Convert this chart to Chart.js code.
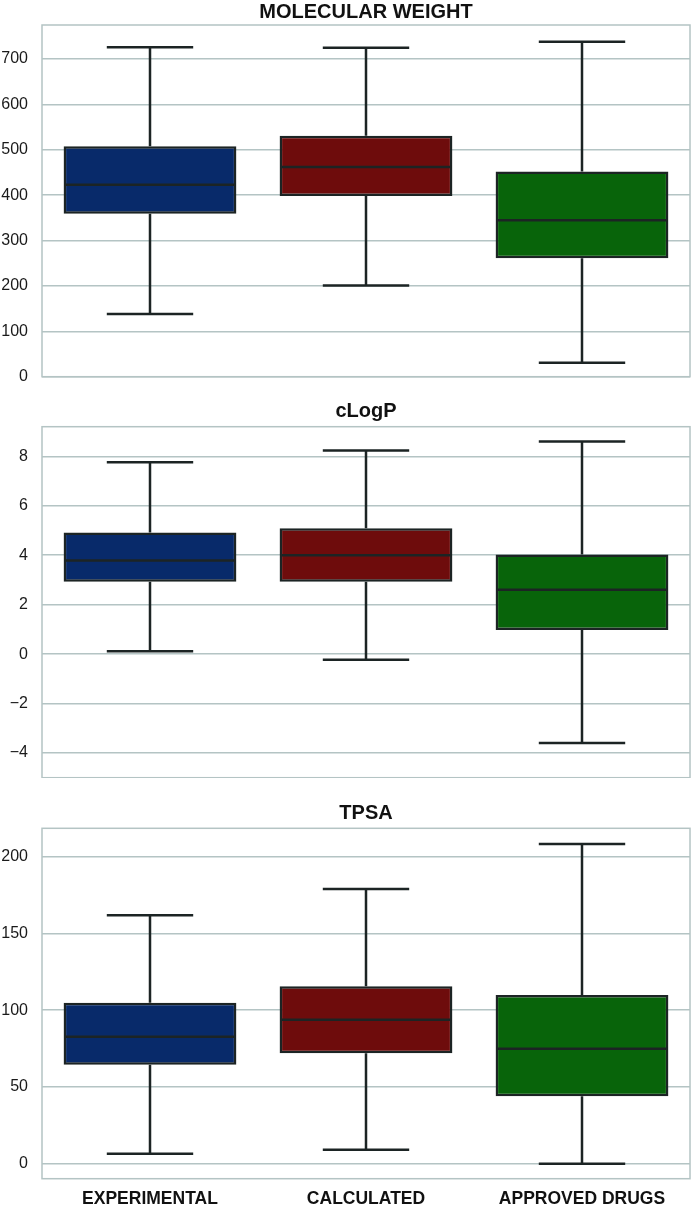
<!DOCTYPE html>
<html>
<head>
<meta charset="utf-8">
<script src="https://cdn.jsdelivr.net/npm/chart.js@4.4.1/dist/chart.umd.min.js"></script>
<style>
  body { margin: 0; background: #fff; width: 693px; height: 1208px; position: relative; overflow: hidden; }
  .panel { position: absolute; left: 0; width: 693px; }
</style>
</head>
<body>
<div class="panel" style="top:0;height:395px"><canvas id="mwChart"></canvas></div>
<div class="panel" style="top:400px;height:378px"><canvas id="logpChart"></canvas></div>
<div class="panel" style="top:802px;height:406px"><canvas id="tpsaChart"></canvas></div>
<script>
const groups = ['EXPERIMENTAL', 'CALCULATED', 'APPROVED DRUGS'];
const boxColors = ['#082a6a', '#6e0c0c', '#08640a'];

// molecular weight
const mwMin = [138, 201, 31];
const mwQ1 = [359, 398, 261];
const mwMedian = [423, 462, 345];
const mwQ3 = [508, 531, 452];
const mwMax = [726, 725, 738];
const mwTicks = [0, 100, 200, 300, 400, 500, 600, 700];

// cLogP
const logpMin = [0.12, -0.23, -3.6];
const logpQ1 = [2.93, 2.93, 0.98];
const logpMedian = [3.79, 4.0, 2.6];
const logpQ3 = [4.92, 5.09, 4.03];
const logpMax = [7.76, 8.24, 8.6];
const logpTicks = [-4, -2, 0, 2, 4, 6, 8];

// TPSA
const tpsaMin = [6.5, 9.1, 0];
const tpsaQ1 = [64.5, 71.9, 43.9];
const tpsaMedian = [82.7, 93.8, 74.9];
const tpsaQ3 = [104.9, 115.6, 109.9];
const tpsaMax = [161.8, 179, 208.3];
const tpsaTicks = [0, 50, 100, 150, 200];

const gridColor = '#b4c4c4';
const lineColor = '#1c2424';
const fontFamily = 'Liberation Sans, Arial, sans-serif';

// frame round the plot area
const framePlugin = {
    id: 'frame',
    beforeDatasetsDraw(chart) {
        const a = chart.chartArea, c = chart.ctx;
        c.save();
        c.strokeStyle = gridColor;
        c.lineWidth = 1.5;
        c.strokeRect(a.left, a.top, a.right - a.left, a.bottom - a.top);
        c.restore();
    }
};

// panel title centred over the plot area
const panelTitlePlugin = {
    id: 'panelTitle',
    afterDraw(chart, args, opts) {
        const a = chart.chartArea, c = chart.ctx;
        c.save();
        c.fillStyle = '#111';
        c.font = 'bold 20px ' + fontFamily;
        c.textAlign = 'center';
        c.textBaseline = 'middle';
        c.fillText(opts.text, (a.left + a.right) / 2, opts.y);
        c.restore();
    }
};

// whiskers, caps and median drawn through the scales
const whiskerPlugin = {
    id: 'whiskers',
    afterDatasetsDraw(chart, args, opts) {
        const c = chart.ctx;
        const xs = chart.scales.x, ys = chart.scales.y;
        const bars = chart.getDatasetMeta(0).data;
        c.save();
        c.strokeStyle = lineColor;
        c.lineWidth = 2.5;
        opts.mins.forEach((mn, i) => {
            const x = xs.getPixelForValue(i);
            const half = bars[i].width / 2;
            const cap = half / 2;
            const yMin = ys.getPixelForValue(mn);
            const yQ1 = ys.getPixelForValue(opts.q1s[i]);
            const yQ3 = ys.getPixelForValue(opts.q3s[i]);
            const yMax = ys.getPixelForValue(opts.maxs[i]);
            const yMed = ys.getPixelForValue(opts.medians[i]);
            c.beginPath();
            c.moveTo(x, yQ3); c.lineTo(x, yMax);
            c.moveTo(x - cap, yMax); c.lineTo(x + cap, yMax);
            c.moveTo(x, yQ1); c.lineTo(x, yMin);
            c.moveTo(x - cap, yMin); c.lineTo(x + cap, yMin);
            c.moveTo(x - half + 1, yMed); c.lineTo(x + half - 1, yMed);
            c.stroke();
        });
        c.restore();
    }
};

const noPadding = () => ({ left: 0, top: 0, right: 0, bottom: 0 });

function makeBoxChart(id, title, mins, q1s, medians, q3s, maxs, ticks, yMin, yMax, cfg) {
    const ctx = document.getElementById(id).getContext('2d');
    return new Chart(ctx, {
        type: 'bar',
        data: {
            labels: groups,
            datasets: [{
                data: q1s.map((q, i) => [q, q3s[i]]),
                backgroundColor: boxColors,
                borderColor: lineColor,
                borderWidth: 2.5,
                borderSkipped: false,
                barPercentage: 0.8,
                categoryPercentage: 1.0
            }]
        },
        options: {
            responsive: true,
            maintainAspectRatio: false,
            animation: false,
            layout: { padding: { left: 0, right: 3, top: cfg.padTop, bottom: cfg.padBottom } },
            plugins: {
                legend: { display: false },
                tooltip: { enabled: false },
                title: { display: false },
                panelTitle: { text: title, y: cfg.titleY },
                whiskers: { mins, q1s, medians, q3s, maxs }
            },
            scales: {
                x: {
                    grid: { display: false, drawTicks: false },
                    border: { display: false },
                    afterFit: s => { s.height = cfg.xHeight; s.getPadding = noPadding; },
                    ticks: {
                        display: cfg.showX,
                        color: '#111',
                        padding: 10,
                        font: { family: fontFamily, size: 17.5, weight: 'bold' }
                    }
                },
                y: {
                    min: yMin,
                    max: yMax,
                    afterBuildTicks: s => { s.ticks = ticks.map(v => ({ value: v })); },
                    afterFit: s => {
                        s.width = 42;
                        s.paddingTop = 0;
                        s.paddingBottom = 0;
                        s.getPadding = noPadding;
                    },
                    grid: { color: gridColor, lineWidth: 1.5, drawTicks: false },
                    border: { display: false },
                    ticks: {
                        color: '#1a1a1a',
                        padding: 14,
                        font: { family: fontFamily, size: 16 },
                        callback: v => String(v).replace('-', '\u2212')
                    }
                }
            }
        },
        plugins: [framePlugin, whiskerPlugin, panelTitlePlugin]
    });
}

makeBoxChart('mwChart', 'MOLECULAR WEIGHT', mwMin, mwQ1, mwMedian, mwQ3, mwMax, mwTicks, 0, 775,
    { showX: false, xHeight: 0, padTop: 25, padBottom: 18.3, titleY: 12 });
makeBoxChart('logpChart', 'cLogP', logpMin, logpQ1, logpMedian, logpQ3, logpMax, logpTicks, -5, 9.2,
    { showX: false, xHeight: 0, padTop: 26.7, padBottom: 0.3, titleY: 11 });
makeBoxChart('tpsaChart', 'TPSA', tpsaMin, tpsaQ1, tpsaMedian, tpsaQ3, tpsaMax, tpsaTicks, -9.8, 218.5,
    { showX: true, xHeight: 29.3, padTop: 26.3, padBottom: 0, titleY: 11 });
</script>
</body>
</html>
